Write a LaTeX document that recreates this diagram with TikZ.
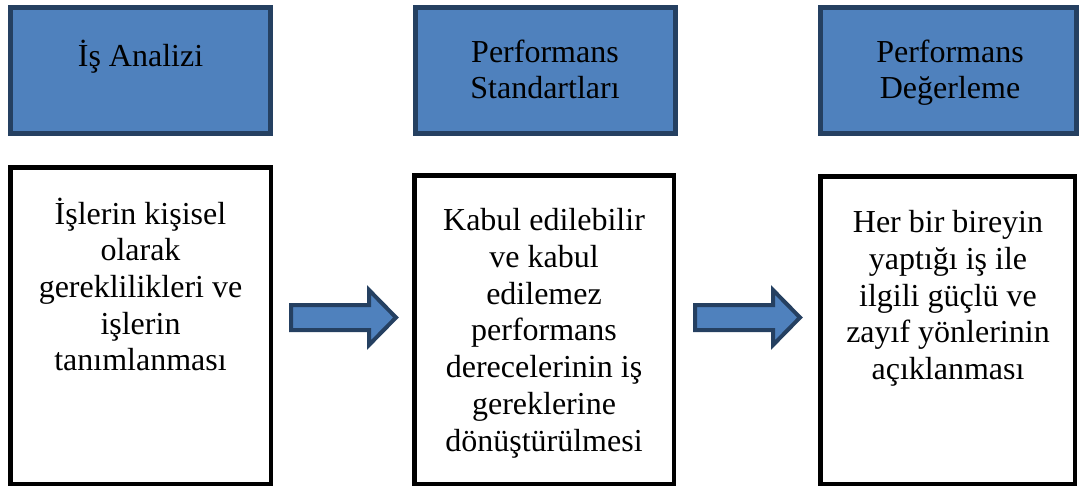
\documentclass[tikz,border=0pt]{standalone}
\usepackage{fontspec}
\setmainfont{Liberation Serif}
\definecolor{boxBlue}{RGB}{79,129,189}
\definecolor{boxNavy}{RGB}{37,64,97}
\tikzset{
  every picture/.style={line width=0.75pt},
  headbox/.style={draw=boxNavy, fill=boxBlue, line width=5pt, inner sep=0pt},
  stepframe/.style={draw=black, fill=white, line width=4.5pt, inner sep=0pt},
  boxtext/.style={inner sep=0pt, align=center, anchor=north,
    font=\fontsize{32pt}{36.7pt}\selectfont, execute at begin node=\strut},
  blockarrow/.style={draw=boxNavy, fill=boxBlue, line width=4pt, line join=miter}
}
\begin{document}
\begin{tikzpicture}[x=1pt,y=1pt,yscale=-1,xscale=1]
\useasboundingbox (0,0) rectangle (1081,488);

% top headers
\node [headbox, minimum width=260pt, minimum height=126pt] (analiz) at (140.5,70.5) {};
\node [headbox, minimum width=260pt, minimum height=126pt] (standart) at (545.5,70.5) {};
\node [headbox, minimum width=256pt, minimum height=126pt] (degerleme) at (948.5,70.5) {};

% lower boxes
\node [stepframe, minimum width=260.5pt, minimum height=316.5pt] (analizBox) at (140.5,325.5) {};
\node [stepframe, minimum width=259.5pt, minimum height=308.5pt] (standartBox) at (544,329.5) {};
\node [stepframe, minimum width=254.5pt, minimum height=307.5pt] (degerlemeBox) at (947.5,330) {};

% block arrows
\foreach \ax in {291,695}
  \draw [blockarrow] (\ax,305) -- (\ax+78,305) -- (\ax+78,290) -- (\ax+105,317.5)
    -- (\ax+78,345) -- (\ax+78,330) -- (\ax,330) -- cycle ;

% Text Node
\node [boxtext] (analizT) at (140.5,39.3) {İş Analizi};
% Text Node
\node [boxtext] (standartT) at (545,39.3) {Performans\\Standartları};
% Text Node
\node [boxtext] (degerlemeT) at (950,39.3) {Performans\\Değerleme};
% Text Node
\node [boxtext] (analizBoxT) at (140.5,197.3) {İşlerin kişisel\\olarak\\gereklilikleri ve\\işlerin\\tanımlanması};
% Text Node
\node [boxtext] (standartBoxT) at (544,208.3) {Kabul edilebilir\\ve kabul\\edilemez\\performans\\derecelerinin iş\\gereklerine\\dönüştürülmesi};
% Text Node
\node [boxtext] (degerlemeBoxT) at (948,210.3) {Her bir bireyin\\yaptığı iş ile\\ilgili güçlü ve\\zayıf yönlerinin\\açıklanması};

\end{tikzpicture}
\end{document}
